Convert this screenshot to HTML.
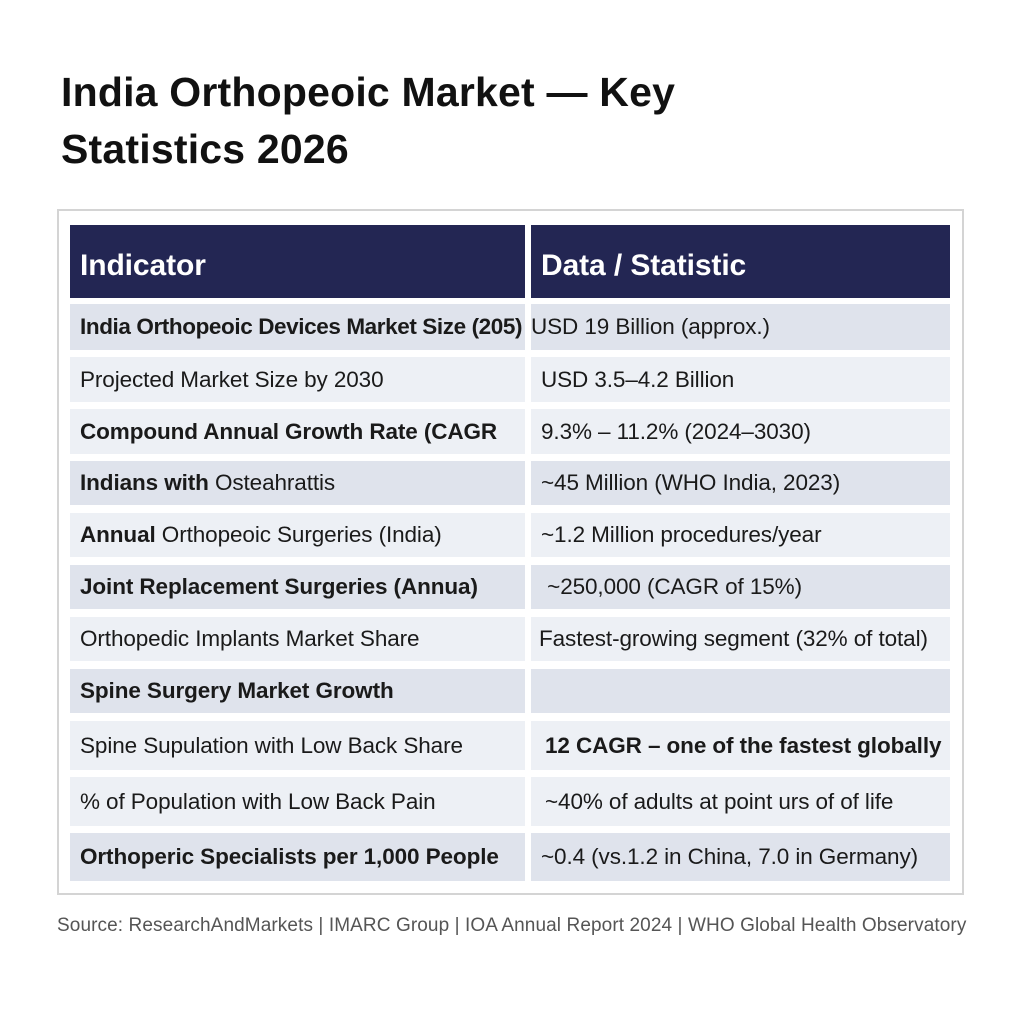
<!DOCTYPE html>
<html><head><style>
body{margin:0;width:1024px;height:1024px;background:#fff;position:relative;font-family:"Liberation Sans",sans-serif;overflow:hidden}
.t{position:absolute;left:61px;top:64px;font-size:41px;font-weight:bold;color:#111;line-height:57px;letter-spacing:0.2px}
.box{position:absolute;left:57px;top:209px;width:907px;height:686px;border:2px solid #d4d4d4;box-sizing:border-box}
.c{position:absolute;box-sizing:border-box;padding-left:10px;display:flex;align-items:center;font-size:22.5px;color:#1a1a1a;white-space:nowrap;overflow:hidden;letter-spacing:-0.1px}
.h{background:#232653;color:#fff;font-size:30px;font-weight:bold;padding-top:8px}
.d{background:#dfe3ec}.l{background:#edf0f5}
.b{font-weight:bold}
.src{position:absolute;left:57px;top:915px;font-size:19px;color:#555;white-space:nowrap;letter-spacing:0.1px}
</style></head><body>
<div class="t">India Orthopeoic Market — Key<br>Statistics 2026</div>
<div class="box"></div>
<div class="c h" style="left:70px;top:225px;width:455px;height:73px">Indicator</div>
<div class="c h" style="left:531px;top:225px;width:419px;height:73px">Data / Statistic</div>

<div class="c d b" style="left:70px;top:304px;width:455px;height:46px;letter-spacing:-0.4px">India Orthopeoic Devices Market Size (205)</div>
<div class="c d" style="left:531px;top:304px;width:419px;height:46px;padding-left:0">USD 19 Billion (approx.)</div>

<div class="c l" style="left:70px;top:357px;width:455px;height:45px">Projected Market Size by 2030</div>
<div class="c l" style="left:531px;top:357px;width:419px;height:45px">USD 3.5–4.2 Billion</div>

<div class="c l b" style="left:70px;top:409px;width:455px;height:45px">Compound Annual Growth Rate (CAGR</div>
<div class="c l" style="left:531px;top:409px;width:419px;height:45px">9.3% – 11.2% (2024–3030)</div>

<div class="c d" style="left:70px;top:461px;width:455px;height:44px"><b>Indians with</b>&nbsp;Osteahrattis</div>
<div class="c d" style="left:531px;top:461px;width:419px;height:44px">~45 Million (WHO India, 2023)</div>

<div class="c l" style="left:70px;top:513px;width:455px;height:44px"><b>Annual</b>&nbsp;Orthopeoic Surgeries (India)</div>
<div class="c l" style="left:531px;top:513px;width:419px;height:44px">~1.2 Million procedures/year</div>

<div class="c d b" style="left:70px;top:565px;width:455px;height:44px">Joint Replacement Surgeries (Annua)</div>
<div class="c d" style="left:531px;top:565px;width:419px;height:44px">&nbsp;~250,000 (CAGR of 15%)</div>

<div class="c l" style="left:70px;top:617px;width:455px;height:44px">Orthopedic Implants Market Share</div>
<div class="c l" style="left:531px;top:617px;width:419px;height:44px;padding-left:8px">Fastest-growing segment (32% of total)</div>

<div class="c d b" style="left:70px;top:669px;width:455px;height:44px">Spine Surgery Market Growth</div>
<div class="c d" style="left:531px;top:669px;width:419px;height:44px"></div>

<div class="c l" style="left:70px;top:721px;width:455px;height:49px">Spine Supulation with Low Back Share</div>
<div class="c l b" style="left:531px;top:721px;width:419px;height:49px;padding-left:14px">12 CAGR – one of the fastest globally</div>

<div class="c l" style="left:70px;top:777px;width:455px;height:49px">% of Population with Low Back Pain</div>
<div class="c l" style="left:531px;top:777px;width:419px;height:49px;padding-left:14px">~40% of adults at point urs of of life</div>

<div class="c d b" style="left:70px;top:833px;width:455px;height:48px">Orthoperic Specialists per 1,000 People</div>
<div class="c d" style="left:531px;top:833px;width:419px;height:48px">~0.4 (vs.1.2 in China, 7.0 in Germany)</div>

<div class="src">Source: ResearchAndMarkets | IMARC Group | IOA Annual Report 2024 | WHO Global Health Observatory</div>
</body></html>
